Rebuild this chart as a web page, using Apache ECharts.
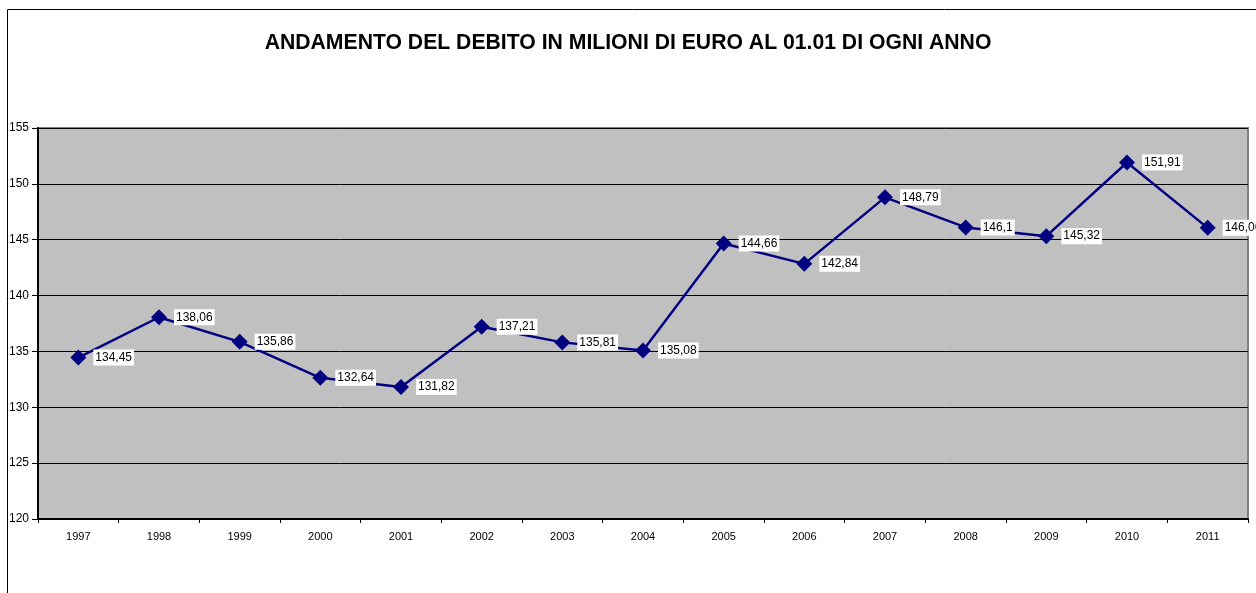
<!DOCTYPE html>
<html>
<head>
<meta charset="utf-8">
<script src="https://cdn.jsdelivr.net/npm/echarts@6/dist/echarts.min.js"></script>
<style>
  html, body { margin: 0; padding: 0; background: #fff; }
  #main { width: 1256px; height: 593px; }
</style>
</head>
<body>
<div id="main"></div>
<script>
const years = ['1997', '1998', '1999', '2000', '2001', '2002', '2003', '2004',
    '2005', '2006', '2007', '2008', '2009', '2010', '2011']
const debito = [134.45, 138.06, 135.86, 132.64, 131.82, 137.21, 135.81, 135.08,
    144.66, 142.84, 148.79, 146.1, 145.32, 151.91, 146.06]
const yMin = 120
const yMax = 155
const yStep = 5

const myChart = echarts.init(document.getElementById('main'))
myChart.setOption({
    animation: false,
    textStyle: { fontFamily: 'Arial, "Liberation Sans", sans-serif' },
    title: {
        text: 'ANDAMENTO DEL DEBITO IN MILIONI DI EURO AL 01.01 DI OGNI ANNO',
        left: 'center',
        top: 28,
        textStyle: { fontSize: 21.2, fontWeight: 'bold', color: '#000' }
    },
    graphic: [{
        type: 'rect',
        shape: { x: 7.5, y: 9.5, width: 1400, height: 800 },
        style: { fill: 'none', stroke: '#000', lineWidth: 1 },
        z: 100
    }],
    grid: {
        left: 38,
        top: 128,
        right: 8,
        bottom: 74,
        show: true,
        backgroundColor: '#C0C0C0',
        borderColor: '#808080',
        borderWidth: 2
    },
    xAxis: {
        type: 'category',
        data: years,
        boundaryGap: true,
        axisLine: { lineStyle: { color: '#000', width: 2 } },
        axisTick: { show: true, alignWithLabel: false, length: 4, lineStyle: { color: '#000' } },
        axisLabel: { color: '#000', fontSize: 11, margin: 12 },
        splitLine: { show: false }
    },
    yAxis: {
        type: 'value',
        min: yMin,
        max: yMax,
        interval: yStep,
        axisLine: { show: true, lineStyle: { color: '#000', width: 2 } },
        axisTick: { show: true, length: 6, lineStyle: { color: '#000' } },
        axisLabel: { color: '#000', fontSize: 12, margin: 9 },
        splitLine: { show: true, lineStyle: { color: '#000', width: 1 } }
    },
    series: [{
        type: 'line',
        data: debito,
        symbol: 'diamond',
        symbolSize: 16,
        lineStyle: { color: '#000080', width: 2.5 },
        itemStyle: { color: '#000080' },
        label: {
            show: true,
            position: 'right',
            distance: 7,
            color: '#000',
            fontSize: 12,
            backgroundColor: '#fff',
            padding: [2, 2, 2, 2],
            formatter: function (p) { return String(p.value).replace('.', ',') }
        }
    }]
})
</script>
</body>
</html>
